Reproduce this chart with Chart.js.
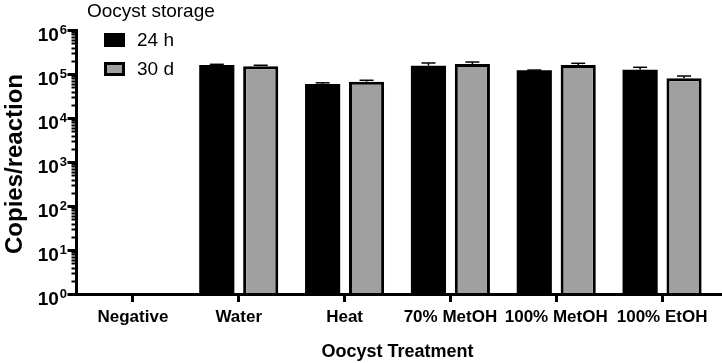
<!DOCTYPE html>
<html>
<head>
<meta charset="utf-8">
<script src="https://cdn.jsdelivr.net/npm/chart.js@4/dist/chart.umd.min.js"></script>
<style>
  html, body { margin: 0; padding: 0; background: #fff; }
  #wrap { width: 722px; height: 363px; }
</style>
</head>
<body>
<div id="wrap"><canvas id="c" width="722" height="363"></canvas></div>
<script>
const categories = ['Negative', 'Water', 'Heat', '70% MetOH', '100% MetOH', '100% EtOH'];
const seriesNames = ['24 h', '30 d'];
const values24h = [null, 160000, 59000, 155000, 121000, 125000];
const values30d = [null, 150000, 67000, 169000, 160000, 80000];
const errTop24h = [null, 166000, 63000, 178000, 123000, 142000];
const errTop30d = [null, 158000, 72000, 187000, 175000, 90000];
const yTickPowers = [0, 1, 2, 3, 4, 5, 6];
const legendTitle = 'Oocyst storage';
const xTitle = 'Oocyst Treatment';
const yTitle = 'Copies/reaction';

const FONT = '"Liberation Sans", Arial, Helvetica, sans-serif';

const customAxes = {
  id: 'customAxes',
  afterDraw(chart) {
    const ctx = chart.ctx;
    const y = chart.scales.y;
    const ca = chart.chartArea;
    const axX = ca.left - 3.5;
    ctx.save();
    ctx.strokeStyle = '#000';
    ctx.lineWidth = 3;
    ctx.beginPath();
    ctx.moveTo(axX - 1.5, ca.bottom + 0.5);
    ctx.lineTo(chart.width, ca.bottom + 0.5);
    ctx.stroke();
    ctx.beginPath();
    ctx.moveTo(axX, ca.top - 1);
    ctx.lineTo(axX, ca.bottom + 2);
    ctx.stroke();
    for (let d = 0; d <= 6; d++) {
      for (let m = 1; m <= 9; m++) {
        if (d === 6 && m > 1) break;
        const v = m * Math.pow(10, d);
        const py = Math.round(y.getPixelForValue(v)) + 0.5;
        const major = m === 1;
        ctx.lineWidth = major ? 3 : 2;
        ctx.beginPath();
        ctx.moveTo(axX - (major ? 9 : 5), py);
        ctx.lineTo(axX, py);
        ctx.stroke();
      }
    }
    ctx.fillStyle = '#000';
    ctx.textBaseline = 'alphabetic';
    yTickPowers.forEach(p => {
      const py = y.getPixelForValue(Math.pow(10, p));
      ctx.font = 'bold 13px ' + FONT;
      const ew = ctx.measureText(String(p)).width;
      ctx.textAlign = 'right';
      ctx.fillText(String(p), 67, py + 4);
      ctx.font = 'bold 19px ' + FONT;
      ctx.fillText('10', 67 - ew - 1, py + 11);
    });
    ctx.save();
    ctx.translate(15, (ca.top + ca.bottom) / 2 + 2);
    ctx.rotate(-Math.PI / 2);
    ctx.font = 'bold 24px ' + FONT;
    ctx.textAlign = 'center';
    ctx.textBaseline = 'middle';
    ctx.fillText(yTitle, 0, 0);
    ctx.restore();
    chart.data.datasets.forEach((ds, di) => {
      const meta = chart.getDatasetMeta(di);
      const errs = di === 0 ? errTop24h : errTop30d;
      meta.data.forEach((bar, i) => {
        if (errs[i] == null || ds.data[i] == null) return;
        const top = y.getPixelForValue(errs[i]);
        const bt = bar.y;
        ctx.strokeStyle = '#000';
        ctx.lineWidth = 1.5;
        ctx.beginPath();
        ctx.moveTo(bar.x, bt);
        ctx.lineTo(bar.x, top);
        ctx.stroke();
        ctx.beginPath();
        ctx.moveTo(bar.x - 7, top);
        ctx.lineTo(bar.x + 7, top);
        ctx.stroke();
      });
    });
    ctx.font = '19px ' + FONT;
    ctx.textAlign = 'left';
    ctx.textBaseline = 'middle';
    ctx.fillText(legendTitle, 87, 12);
    const rows = [40, 69];
    chart.data.datasets.forEach((ds, di) => {
      const cy = rows[di];
      ctx.fillStyle = '#000';
      ctx.fillRect(104, cy - 7, 21, 14);
      if (di === 1) {
        ctx.fillStyle = ds.backgroundColor;
        ctx.fillRect(107, cy - 4, 15, 8);
      }
      ctx.fillStyle = '#000';
      ctx.fillText(ds.label, 137, cy + 1);
    });
    ctx.restore();
  }
};

new Chart(document.getElementById('c'), {
  type: 'bar',
  data: {
    labels: categories,
    datasets: [
      { label: seriesNames[0], data: values24h, backgroundColor: '#000000', borderColor: '#000000', borderWidth: 0 },
      { label: seriesNames[1], data: values30d, backgroundColor: '#a0a0a0', borderColor: '#000000', borderWidth: 3 }
    ]
  },
  options: {
    responsive: false,
    animation: false,
    devicePixelRatio: 1,
    categoryPercentage: 0.83,
    barPercentage: 0.8,
    layout: { padding: { top: 30, right: 7, left: 0, bottom: 0 } },
    plugins: { legend: { display: false }, tooltip: { enabled: false } },
    scales: {
      x: {
        offset: true,
        grid: { display: true, drawOnChartArea: false, drawTicks: true, offset: false, tickLength: 8, lineWidth: 3, color: '#000' },
        border: { display: false },
        ticks: { color: '#000', font: { family: FONT, size: 17, weight: 'bold' }, padding: 5, maxRotation: 0, autoSkip: false },
        title: { display: true, text: xTitle, color: '#000', font: { family: FONT, size: 18, weight: 'bold' }, padding: { top: 0, bottom: 0 } },
        afterFit: s => { s.height = 69; }
      },
      y: {
        type: 'logarithmic',
        min: 1,
        max: 1000000,
        grid: { display: false },
        border: { display: false },
        ticks: { display: false },
        afterFit: s => { s.width = 80; }
      }
    }
  },
  plugins: [customAxes]
});
</script>
</body>
</html>
